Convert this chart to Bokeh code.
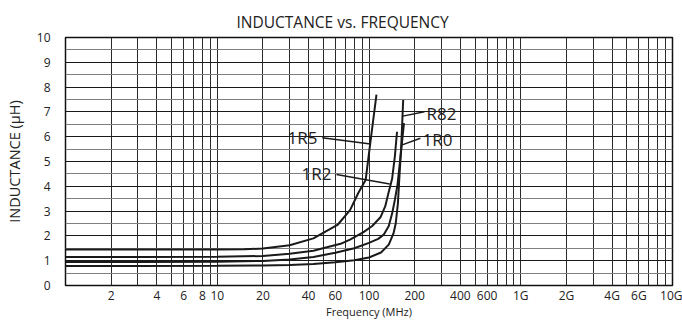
from bokeh.plotting import figure
from bokeh.models import Range1d, FixedTicker, Grid
from bokeh.embed import file_html
from bokeh.resources import INLINE
from bokeh.core.properties import value

FONT = "Open Sans"

# ---- data (frequency in MHz, inductance in uH) ----
freq_1r5 = [1, 3, 10, 15, 20, 30, 43, 62, 75, 85, 95, 102, 107, 112]
ind_1r5 = [1.45, 1.45, 1.45, 1.46, 1.49, 1.62, 1.90, 2.44, 3.04, 3.73, 4.25, 5.75, 6.75, 7.70]

freq_1r2 = [1, 3, 10, 20, 30, 43, 56, 65, 75, 92, 105, 119, 128, 134, 142, 148, 153]
ind_1r2 = [1.15, 1.15, 1.16, 1.19, 1.28, 1.40, 1.58, 1.68, 1.85, 2.15, 2.40, 2.75, 3.20, 3.70, 4.30, 5.20, 6.20]

freq_1r0 = [1, 3, 10, 20, 30, 43, 60, 80, 100, 115, 125, 135, 142, 148, 154, 162, 170]
ind_1r0 = [0.95, 0.95, 0.96, 0.99, 1.05, 1.15, 1.32, 1.50, 1.72, 1.88, 2.05, 2.40, 2.90, 3.45, 4.05, 5.30, 6.55]

freq_r82 = [1, 3, 10, 20, 30, 43, 60, 80, 100, 120, 135, 145, 150, 155, 158, 163, 168]
ind_r82 = [0.79, 0.79, 0.80, 0.81, 0.83, 0.87, 0.94, 1.02, 1.13, 1.33, 1.65, 2.10, 2.50, 3.30, 4.20, 5.60, 7.48]

series = [(freq_1r5, ind_1r5), (freq_1r2, ind_1r2), (freq_1r0, ind_1r0), (freq_r82, ind_r82)]

# curve labels and leader lines (data units)
label_text = ["1R5", "1R2", "R82", "1R0"]
label_x = [36.5, 45.1, 300.0, 283.0]
label_y = [5.95, 4.50, 6.93, 5.89]
leader_x0 = [49.2, 61.1, 232.0, 218.0]
leader_y0 = [5.96, 4.48, 7.01, 5.94]
leader_x1 = [102.3, 137.0, 167.0, 165.5]
leader_y1 = [5.71, 4.09, 6.83, 5.67]

x_tick_vals = [2, 4, 6, 8, 10, 20, 40, 60, 100, 200, 400, 600, 1000, 2000, 4000, 6000, 10000]
x_tick_text = ["2", "4", "6", "8", "10", "20", "40", "60", "100", "200", "400", "600",
               "1G", "2G", "4G", "6G", "10G"]
y_tick_vals = list(range(0, 11))
y_half_vals = [i + 0.5 for i in range(10)]
x_grid_vals = [m * 10 ** d for d in range(4) for m in range(1, 10)] + [10000]

p = figure(width=682, height=325, x_axis_type="log",
           x_range=Range1d(1, 10000), y_range=Range1d(0, 10),
           output_backend="svg", toolbar_location=None,
           min_border_left=65, min_border_right=10,
           min_border_top=37, min_border_bottom=40)

p.background_fill_color = "white"
p.border_fill_color = "white"
p.outline_line_color = "#111111"
p.outline_line_width = 1.5

p.title.text = "INDUCTANCE vs. FREQUENCY"
p.title.align = "left"
p.title.offset = 171
p.title.text_font = FONT
p.title.text_font_size = "15.5px"
p.title.text_font_style = "normal"
p.title.text_color = "#222222"

for ax in (p.xaxis, p.yaxis):
    ax.axis_line_color = None
    ax.major_tick_line_color = None
    ax.minor_tick_line_color = None
    ax.major_tick_out = 0
    ax.major_tick_in = 0
    ax.minor_tick_out = 0
    ax.minor_tick_in = 0
    ax.major_label_text_font = FONT
    ax.major_label_text_font_size = "12px"
    ax.major_label_text_color = "#222222"
    ax.axis_label_text_font = FONT
    ax.axis_label_text_font_style = "normal"
    ax.axis_label_text_color = "#222222"

p.xaxis.ticker = FixedTicker(ticks=x_tick_vals)
p.xaxis.major_label_overrides = {v: t for v, t in zip(x_tick_vals, x_tick_text)}
p.xaxis.axis_label = "Frequency (MHz)"
p.xaxis.axis_label_text_font_size = "11px"
p.xaxis.major_label_standoff = 1
p.xaxis.axis_label_standoff = -3

p.yaxis.ticker = FixedTicker(ticks=y_tick_vals)
p.yaxis.axis_label = "INDUCTANCE (\u00b5H)"
p.yaxis.axis_label_text_font_size = "14.5px"
p.yaxis.major_label_standoff = 15
p.yaxis.axis_label_standoff = 10

p.xgrid.ticker = FixedTicker(ticks=x_grid_vals)
p.xgrid.grid_line_color = "#2a2a2a"
p.xgrid.grid_line_width = 1
p.ygrid.ticker = FixedTicker(ticks=y_tick_vals)
p.ygrid.grid_line_color = "#1a1a1a"
p.ygrid.grid_line_width = 1
half_grid = Grid(dimension=1, ticker=FixedTicker(ticks=y_half_vals),
                 grid_line_color="#808080", grid_line_width=1)
p.add_layout(half_grid)

for fx, ly in series:
    p.line(fx, ly, line_color="#1a1a1a", line_width=2)

p.segment(x0=leader_x0, y0=leader_y0, x1=leader_x1, y1=leader_y1,
          line_color="#1a1a1a", line_width=1.5)
p.text(x=label_x, y=label_y, text=label_text, text_font=value(FONT),
       text_font_size="17px", text_align="center", text_baseline="middle",
       text_color="#222222")

open("out.html", "w").write(file_html(p, INLINE))
